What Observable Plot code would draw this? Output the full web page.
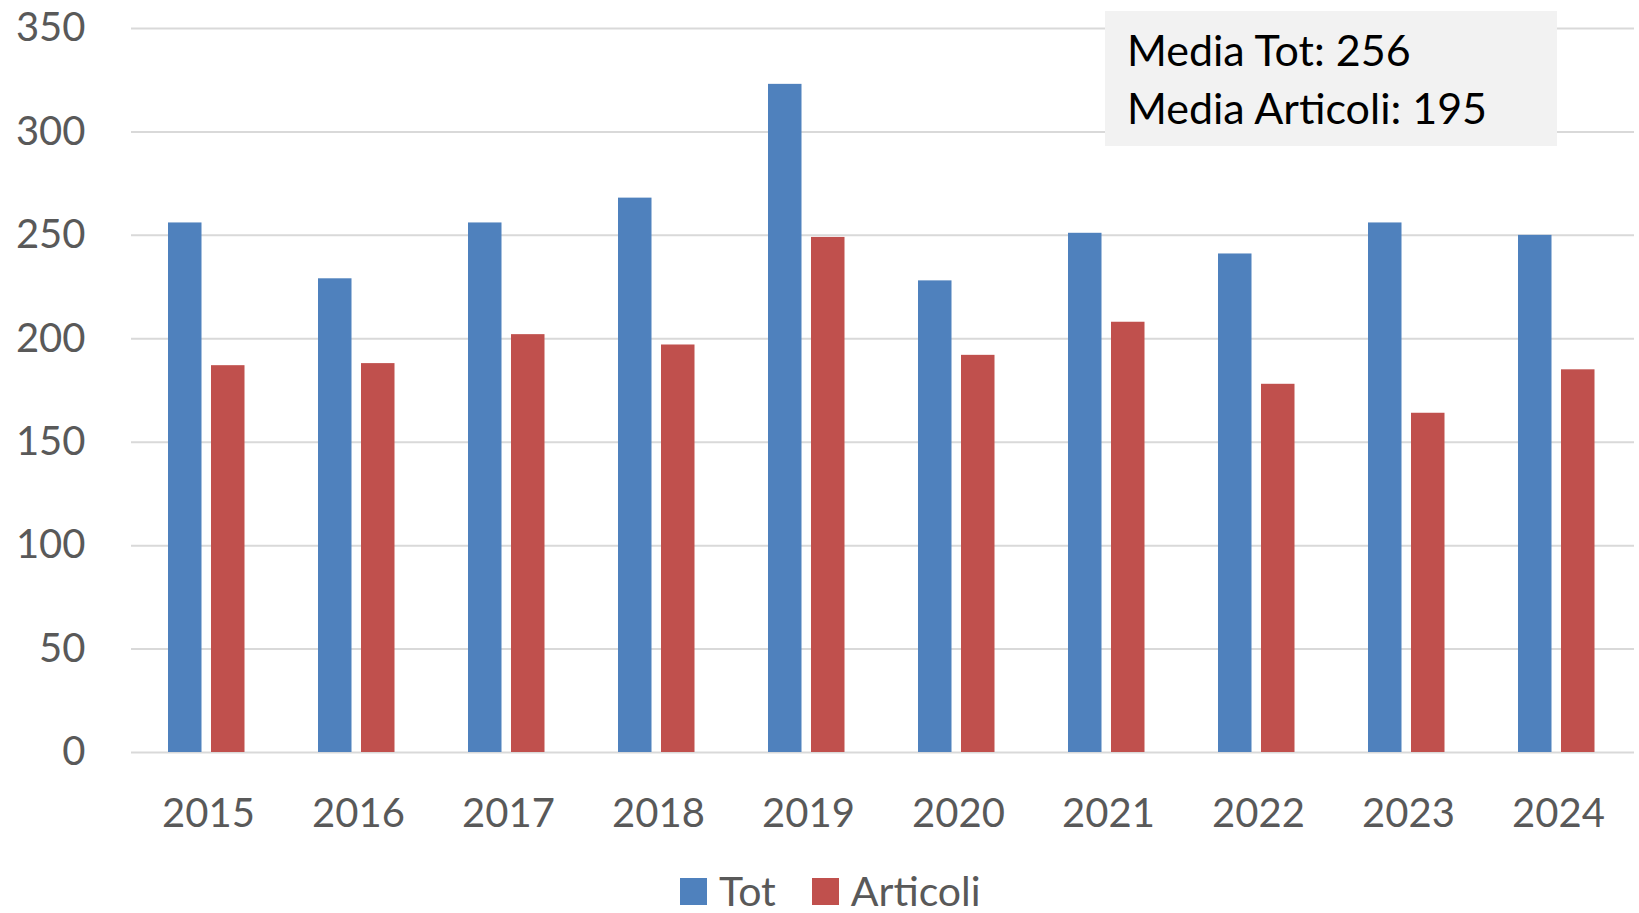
<!DOCTYPE html>
<html>
<head>
<meta charset="utf-8">
<script src="https://cdn.jsdelivr.net/npm/d3@7"></script>
<script src="https://cdn.jsdelivr.net/npm/@observablehq/plot@0.6"></script>
<style>
  html, body { margin: 0; padding: 0; background: #fff; }
  #wrap { position: relative; width: 1639px; height: 913px; font-family: Lato, "Open Sans", sans-serif; }
  #chart { position: absolute; left: 0; top: 0; }
  #note { position: absolute; left: 1105px; top: 11px; width: 452px; height: 135px; background: #f2f2f2;
          font-size: 43px; color: #000; box-sizing: border-box; padding: 10px 0 0 22px; line-height: 58px; }
  #legend { position: absolute; left: 680px; top: 873px; display: flex; align-items: center; font-size: 41px; line-height: 36px; color: #595959; }
  #legend .sw { width: 27px; height: 27px; display: inline-block; margin-right: 12px; }
  #legend .item { display: flex; align-items: center; margin-right: 36px; }
</style>
</head>
<body>
<div id="wrap">
  <div id="chart"></div>
  <div id="note"><div>Media Tot: 256</div><div>Media Articoli: 195</div></div>
  <div id="legend"></div>
</div>
<script>
const years = ["2015","2016","2017","2018","2019","2020","2021","2022","2023","2024"];
const tot = [256, 229, 256, 268, 323, 228, 251, 241, 256, 250];
const articoli = [187, 188, 202, 197, 249, 192, 208, 178, 164, 185];
const yTicks = [0, 50, 100, 150, 200, 250, 300, 350];
const seriesNames = ["Tot", "Articoli"];
const seriesColors = ["#4f81bd", "#c0504d"];

const rows = years.map((y, i) => ({year: y, tot: tot[i], articoli: articoli[i]}));

const chart = Plot.plot({
  width: 1639,
  height: 850,
  marginLeft: 131,
  marginRight: 5,
  marginTop: 28,
  marginBottom: 98,
  style: {fontFamily: "Lato, 'Open Sans', sans-serif", fontSize: "40px", color: "#595959", background: "transparent"},
  x: {domain: years, padding: 0, label: null, tickSize: 0, tickPadding: 46},
  y: {domain: [0, 350], ticks: yTicks, label: null, tickSize: 0, tickPadding: 46},
  marks: [
    Plot.ruleY(yTicks, {stroke: "#d9d9d9", strokeWidth: 2}),
    Plot.barY(rows, {x: "year", y: "tot", fill: seriesColors[0], insetLeft: 35, insetRight: 81.5}),
    Plot.barY(rows, {x: "year", y: "articoli", fill: seriesColors[1], insetLeft: 78, insetRight: 38.5})
  ]
});
document.getElementById("chart").appendChild(chart);

const legend = document.getElementById("legend");
seriesNames.forEach((n, i) => {
  const item = document.createElement("span");
  item.className = "item";
  const sw = document.createElement("span");
  sw.className = "sw";
  sw.style.background = seriesColors[i];
  item.appendChild(sw);
  item.appendChild(document.createTextNode(n));
  legend.appendChild(item);
});
</script>
</body>
</html>
